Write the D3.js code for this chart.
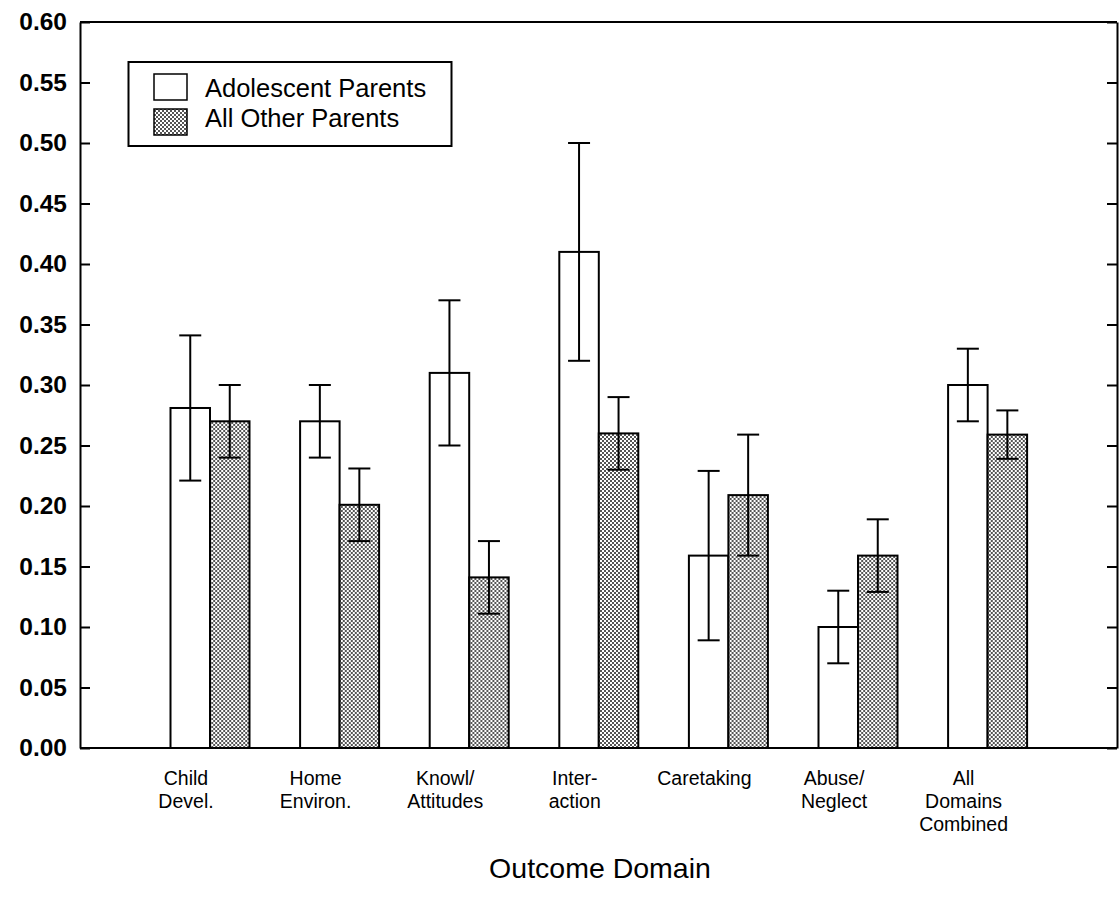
<!DOCTYPE html>
<html>
<head>
<meta charset="utf-8">
<script src="https://cdn.jsdelivr.net/npm/d3@7"></script>
<style>
  body { margin: 0; background: #fff; }
  svg { font-family: "Liberation Sans", Arial, sans-serif; }
</style>
</head>
<body>
<svg width="1119" height="905"></svg>
<script>
// dati
var categorie = ["Child Devel.", "Home Environ.", "Knowl/Attitudes", "Inter-action", "Caretaking", "Abuse/Neglect", "All Domains Combined"];
var etichette = [["Child", "Devel."], ["Home", "Environ."], ["Knowl/", "Attitudes"], ["Inter-", "action"], ["Caretaking"], ["Abuse/", "Neglect"], ["All", "Domains", "Combined"]];
var serie = ["Adolescent Parents", "All Other Parents"];
var adolescenti = [0.281, 0.270, 0.310, 0.410, 0.159, 0.100, 0.300];
var errAdolescenti = [0.060, 0.030, 0.060, 0.090, 0.070, 0.030, 0.030];
var altri = [0.270, 0.201, 0.141, 0.260, 0.209, 0.159, 0.259];
var errAltri = [0.030, 0.030, 0.030, 0.030, 0.050, 0.030, 0.020];
var yTicks = [0, 0.05, 0.10, 0.15, 0.20, 0.25, 0.30, 0.35, 0.40, 0.45, 0.50, 0.55, 0.60];

var svg = d3.select("svg");
var sinistra = 80, destra = 1117, basso = 748, alto = 22;

// pattern puntinato per la seconda serie
var defs = svg.append("defs");
var pat = defs.append("pattern")
    .attr("id", "puntini")
    .attr("width", 4).attr("height", 4)
    .attr("patternUnits", "userSpaceOnUse");
pat.append("rect").attr("width", 4).attr("height", 4).attr("fill", "#fff");
pat.append("rect").attr("x", 0).attr("y", 0).attr("width", 2).attr("height", 2).attr("fill", "#555");
pat.append("rect").attr("x", 2).attr("y", 2).attr("width", 2).attr("height", 2).attr("fill", "#555");

var y = d3.scaleLinear().domain([0, 0.6]).range([basso, alto]);
var x0 = d3.scaleBand().domain(categorie).range([145.2, 1052.4]);
var passo = x0.step();
var x1 = d3.scaleBand().domain(serie).range([passo / 2 - 39.5, passo / 2 + 39.5]);

var dati = categorie.map(function(c, i) {
  return {
    cat: c,
    valori: [
      { s: serie[0], v: adolescenti[i], e: errAdolescenti[i] },
      { s: serie[1], v: altri[i], e: errAltri[i] }
    ]
  };
});

// cornice: bordo superiore
svg.append("line")
    .attr("x1", sinistra).attr("x2", destra)
    .attr("y1", y(0.6)).attr("y2", y(0.6))
    .attr("stroke", "#000").attr("stroke-width", 2);

// assi
var assey = svg.append("g")
    .attr("transform", "translate(" + sinistra + ",0)")
    .call(d3.axisLeft(y).tickValues(yTicks).tickFormat(d3.format(".2f"))
        .tickSizeInner(-10).tickSizeOuter(0).tickPadding(13));
assey.selectAll("text").attr("font-size", 24.5).attr("font-weight", "bold")
    .attr("font-family", "Liberation Sans, Arial, sans-serif").attr("fill", "#000");
assey.selectAll("line, path").attr("stroke", "#000").attr("stroke-width", 2);

var assedx = svg.append("g")
    .attr("transform", "translate(" + destra + ",0)")
    .call(d3.axisRight(y).tickValues(yTicks).tickFormat("")
        .tickSizeInner(-10).tickSizeOuter(0));
assedx.selectAll("line, path").attr("stroke", "#000").attr("stroke-width", 2);

// barre
var gruppi = svg.append("g").selectAll("g")
    .data(dati)
    .enter().append("g")
    .attr("transform", function(d) { return "translate(" + x0(d.cat) + ",0)"; });

gruppi.selectAll("rect")
    .data(function(d) { return d.valori; })
    .enter().append("rect")
    .attr("x", function(d) { return x1(d.s); })
    .attr("width", x1.bandwidth())
    .attr("y", function(d) { return y(d.v); })
    .attr("height", function(d) { return y(0) - y(d.v); })
    .attr("fill", function(d, i) { return i == 0 ? "#fff" : "url(#puntini)"; })
    .attr("stroke", "#000")
    .attr("stroke-width", 2);

// barre di errore
var err = gruppi.selectAll("g.err")
    .data(function(d) { return d.valori; })
    .enter().append("g")
    .attr("class", "err")
    .attr("stroke", "#000")
    .attr("stroke-width", 2);
err.append("line")
    .attr("x1", function(d) { return x1(d.s) + x1.bandwidth() / 2; })
    .attr("x2", function(d) { return x1(d.s) + x1.bandwidth() / 2; })
    .attr("y1", function(d) { return y(d.v - d.e); })
    .attr("y2", function(d) { return y(d.v + d.e); });
err.append("line")
    .attr("x1", function(d) { return x1(d.s) + x1.bandwidth() / 2 - 11; })
    .attr("x2", function(d) { return x1(d.s) + x1.bandwidth() / 2 + 11; })
    .attr("y1", function(d) { return y(d.v + d.e); })
    .attr("y2", function(d) { return y(d.v + d.e); });
err.append("line")
    .attr("x1", function(d) { return x1(d.s) + x1.bandwidth() / 2 - 11; })
    .attr("x2", function(d) { return x1(d.s) + x1.bandwidth() / 2 + 11; })
    .attr("y1", function(d) { return y(d.v - d.e); })
    .attr("y2", function(d) { return y(d.v - d.e); });

// asse x (linea di base)
svg.append("line")
    .attr("x1", sinistra).attr("x2", destra)
    .attr("y1", y(0)).attr("y2", y(0))
    .attr("stroke", "#000").attr("stroke-width", 2);

// etichette categorie
var lab = svg.append("g").selectAll("text")
    .data(categorie)
    .enter().append("text")
    .attr("x", function(d) { return x0(d) + passo / 2 - 24; })
    .attr("y", basso + 37)
    .attr("text-anchor", "middle")
    .attr("font-size", 19.5)
    .attr("fill", "#000");
lab.selectAll("tspan")
    .data(function(d, i) { return etichette[i]; })
    .enter().append("tspan")
    .attr("x", function() { return d3.select(this.parentNode).attr("x"); })
    .attr("dy", function(d, i) { return i == 0 ? 0 : 23; })
    .text(function(d) { return d; });

// titolo asse x
svg.append("text")
    .attr("x", 600)
    .attr("y", 878)
    .attr("text-anchor", "middle")
    .attr("font-size", 28.5)
    .attr("fill", "#000")
    .text("Outcome Domain");

// legenda
var leg = svg.append("g");
leg.append("rect")
    .attr("x", 128.5).attr("y", 62)
    .attr("width", 323).attr("height", 84)
    .attr("fill", "#fff").attr("stroke", "#000").attr("stroke-width", 2);
leg.selectAll("rect.sw")
    .data(serie)
    .enter().append("rect")
    .attr("class", "sw")
    .attr("x", 154)
    .attr("y", function(d, i) { return 74 + i * 35; })
    .attr("width", 33).attr("height", 26)
    .attr("fill", function(d, i) { return i == 0 ? "#fff" : "url(#puntini)"; })
    .attr("stroke", "#000").attr("stroke-width", 1.5);
leg.selectAll("text")
    .data(serie)
    .enter().append("text")
    .attr("x", 205)
    .attr("y", function(d, i) { return 97 + i * 30; })
    .attr("font-size", 25.5)
    .attr("fill", "#000")
    .text(function(d) { return d; });
</script>
</body>
</html>
